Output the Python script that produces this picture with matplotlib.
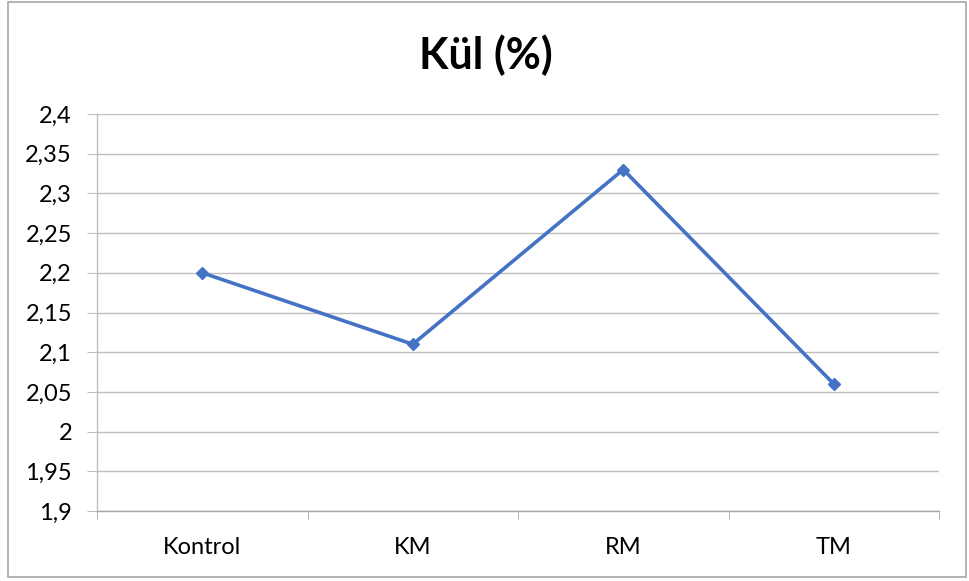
import matplotlib.pyplot as plt
from matplotlib.patches import Rectangle

categories = ['Kontrol', 'KM', 'RM', 'TM']
kul_values = [2.2, 2.11, 2.33, 2.06]
y_ticks = [1.9, 1.95, 2.0, 2.05, 2.1, 2.15, 2.2, 2.25, 2.3, 2.35, 2.4]
y_labels = ['1,9', '1,95', '2', '2,05', '2,1', '2,15', '2,2', '2,25', '2,3', '2,35', '2,4']

plt.rcParams['font.family'] = ['Lato', 'DejaVu Sans']

fig = plt.figure(figsize=(9.69, 5.81), dpi=100)
# outer chart border
fig.patches.append(Rectangle((8 / 969, 4 / 581), 958 / 969, 575 / 581, transform=fig.transFigure,
                             fill=False, edgecolor='#a6a6a6', linewidth=1.2))

ax = fig.add_axes([97 / 969, 70 / 581, 842 / 969, 397 / 581])

x = range(len(categories))
ax.plot(x, kul_values, color='#4472c4', linewidth=2.6, marker='D', markersize=6.5, zorder=3)

ax.set_xlim(-0.5, len(categories) - 0.5)
ax.set_ylim(1.9, 2.4)
ax.set_yticks(y_ticks)
ax.set_yticklabels(y_labels)
ax.set_xticks(list(x))
ax.set_xticklabels(categories)
ax.set_xticks([i - 0.5 for i in range(len(categories) + 1)], minor=True)

ax.grid(axis='y', color='#bfbfbf', linewidth=1.0)
ax.set_axisbelow(True)
for s in ['top', 'right']:
    ax.spines[s].set_visible(False)
ax.spines['left'].set_color('#bfbfbf')
ax.spines['bottom'].set_color('#a6a6a6')
ax.spines['left'].set_linewidth(1.0)
ax.spines['bottom'].set_linewidth(1.0)

ax.tick_params(axis='y', length=7, color='#bfbfbf', labelsize=17, pad=11, labelcolor='#000000')
ax.tick_params(axis='x', which='major', length=0, labelsize=17, pad=19)
ax.tick_params(axis='x', which='minor', length=6, color='#a6a6a6')

fig.text(486 / 969, 1 - 55 / 581, 'Kül (%)', ha='center', va='center', fontsize=31, fontweight='bold')

fig.savefig('out.png', dpi=100)
